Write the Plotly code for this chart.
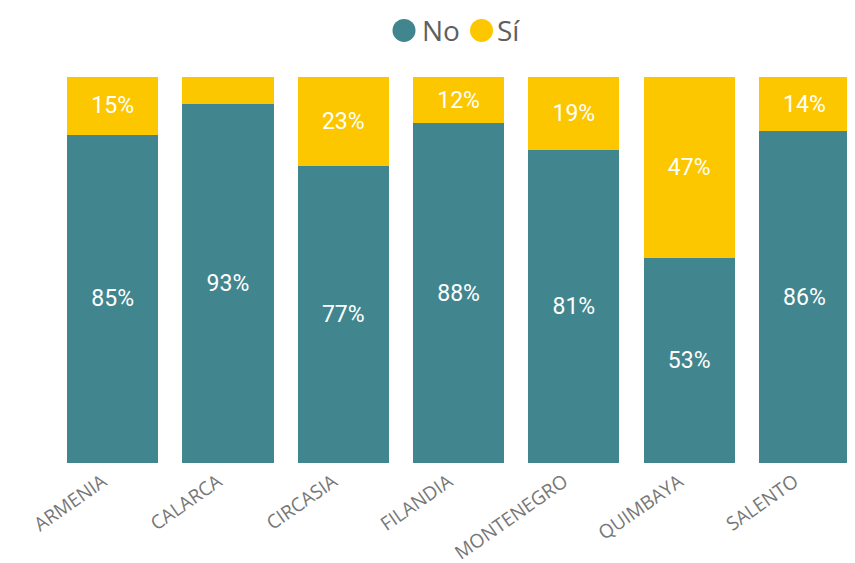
import plotly.graph_objects as go

categories = ["ARMENIA", "CALARCA", "CIRCASIA", "FILANDIA", "MONTENEGRO", "QUIMBAYA", "SALENTO"]
no_values = [85, 93, 77, 88, 81, 53, 86]
si_values = [15, 7, 23, 12, 19, 47, 14]
series_names = ["No", "Sí"]
colors = ["#41868F", "#FDC700"]

def labels(vals, min_show=10):
    return [f"{v}%" if v >= min_show else "" for v in vals]

fig = go.Figure()
for name, vals, col in zip(series_names, [no_values, si_values], colors):
    fig.add_trace(go.Bar(
        x=categories, y=vals, name=name, marker=dict(color=col, line=dict(width=0)),
        text=labels(vals), textposition="inside", insidetextanchor="middle",
        textangle=0, textfont=dict(color="white", size=23, family="Roboto"),
        showlegend=False, hoverinfo="x+y+name",
    ))

# legend drawn as circles + text labels above plot
legend_x_circle = [0.439, 0.5365]
legend_x_text = [0.4591, 0.5535]
legend_y = 1.1205
for name, col, xc, xt in zip(series_names, colors, legend_x_circle, legend_x_text):
    fig.add_shape(type="circle", xref="paper", yref="paper",
                  xsizemode="pixel", ysizemode="pixel", xanchor=xc, yanchor=legend_y,
                  x0=-11.5, x1=11.5, y0=-11.5, y1=11.5,
                  fillcolor=col, line=dict(width=0))
    fig.add_annotation(text=name, xref="paper", yref="paper", x=xt, y=legend_y,
                       xanchor="left", yanchor="middle", showarrow=False,
                       font=dict(size=28, family="Open Sans", color="#5F5F5F"))

fig.update_layout(
    width=855, height=563,
    barmode="stack", bargap=0.21,
    paper_bgcolor="white", plot_bgcolor="white",
    margin=dict(l=47, r=13, t=69, b=108, autoexpand=False),
    font=dict(family="Open Sans", color="#777777"),
    showlegend=False,
)
fig.update_xaxes(range=[-0.5, 6.395], tickangle=-35, tickfont=dict(size=19, color="#777777"),
                 ticklabelshift=-10, ticklabelstandoff=3, automargin=False,
                 showgrid=False, showline=False, zeroline=False, ticks="")
fig.update_yaxes(range=[0, 100], visible=False, showgrid=False, zeroline=False, automargin=False)

fig.write_html("out.html")
